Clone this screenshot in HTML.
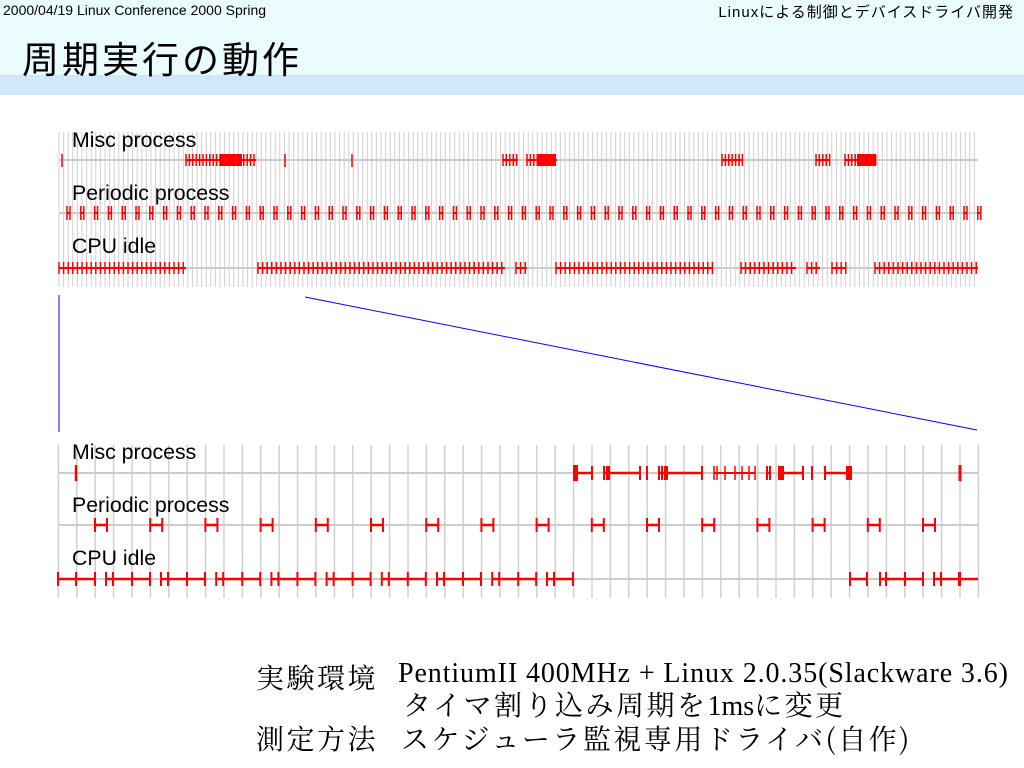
<!DOCTYPE html>
<html><head><meta charset="utf-8">
<style>
body{margin:0;width:1024px;height:768px;overflow:hidden;background:#fff;font-family:"Liberation Sans","Noto Sans CJK JP",sans-serif;position:relative}
.hd{position:absolute;left:0;top:0;width:1024px;height:75px;background:#eafcfd}
.hd2{position:absolute;left:0;top:75px;width:1024px;height:20px;background:#d0e8fa}
.t{position:absolute;white-space:nowrap}
.j{position:absolute;white-space:nowrap;font-family:"Noto Serif CJK SC","Liberation Serif",serif;font-size:28px;letter-spacing:2.5px;color:#000}
.l{position:absolute;white-space:nowrap;font-family:"Liberation Serif",serif;font-size:28px;letter-spacing:0.9px;color:#000}
</style></head><body>
<div class="hd"></div><div class="hd2"></div>
<div class="t" style="left:3px;top:2px;font-size:14px">2000/04/19 Linux Conference 2000 Spring</div>
<div class="t" style="right:10px;top:1px;font-size:15px;letter-spacing:1px">Linuxによる制御とデバイスドライバ開発</div>
<div class="t" style="left:22px;top:30px;font-size:37px;letter-spacing:3px">周期実行の動作</div>
<svg id="g" width="1024" height="768" style="position:absolute;left:0;top:0"></svg>
<div class="j" style="left:256px;top:657px">実験環境</div>
<div class="l" style="left:398px;top:658px">PentiumII 400MHz + Linux 2.0.35(Slackware 3.6)</div>
<div class="j" style="left:403px;top:684px">タイマ割り込み周期を<span style="font-family:'Liberation Serif',serif;font-size:28px;letter-spacing:0">1ms</span>に変更</div>
<div class="j" style="left:256px;top:718px">測定方法</div>
<div class="j" style="left:401px;top:718px">スケジューラ監視専用ドライバ(自作)</div>
<script>
var s='';
function L(x1,y1,x2,y2,c,w){s+='<line x1="'+x1+'" y1="'+y1+'" x2="'+x2+'" y2="'+y2+'" stroke="'+c+'" stroke-width="'+w+'"/>';}
function T(x,y,t){s+='<text x="'+x+'" y="'+y+'" font-family="Liberation Sans, sans-serif" font-size="21.3" fill="#000">'+t+'</text>';}
var R='#f00';
for(var x=59;x<=979;x+=4.6)L(x,132,x,287,'#d0d0d0',1);
[160,213,268].forEach(function(y){L(59,y,978,y,'#ccc',2)});
T(72,147,'Misc process');T(72,200,'Periodic process');T(72,253,'CPU idle');
function seg(a,b,y,h,step){L(a,y,b,y,R,2);for(var x=a;x<=b+0.1;x+=step)L(x,y-h,x,y+h,R,1.5);}
for(var x=67;x<978;x+=13.8){L(x,213,x+3,213,R,2);L(x,206,x,220,R,1.5);L(x+3,206,x+3,220,R,1.5);}
[[59,186],[258,505],[516,527],[556,713],[741,796],[807,820],[832,846],[875,978]].forEach(function(p){seg(p[0],p[1],268,6,4.6)});
L(62,154,62,167,R,1.5);L(285,154,285,167,R,1.5);L(352,154,352,167,R,1.5);
[[186,256],[503,518],[527,557],[722,743],[816,830],[845,876]].forEach(function(p){seg(p[0],p[1],160,6,3.4)});
s+='<rect x="220" y="154" width="22" height="12" fill="#f00"/><rect x="538" y="154" width="18" height="12" fill="#f00"/><rect x="857" y="154" width="18" height="12" fill="#f00"/>';
L(59,295,59,432,'#00f',1);L(305,297,977,430,'#00f',1);
for(var x=58.4;x<=980;x+=18.4)L(x,445,x,598,'#d0d0d0',1.5);
[473,525,579].forEach(function(y){L(59,y,978,y,'#ccc',2)});
T(72,459,'Misc process');T(72,512,'Periodic process');T(72,565,'CPU idle');
function bs(a,b,y,ticks){L(a,y,b,y,R,2.5);ticks.forEach(function(x){L(x,y-7,x,y+7,R,2)});}
for(var k=0;k<16;k++){var a=95+55.2*k;bs(a,a+12,525,[a,a+12]);}
var id=[[58,95,[58,76,95]],[106,150,[106,113,132,150]]];
for(var k=0;k<7;k++){var a=161+55.2*k;id.push([a,a+44,[a,a+7,a+26,a+44]]);}
id.push([547,573,[547,554,573]]);
id.push([850,867,[850,867]]);id.push([880,923,[880,886,905,923]]);id.push([934,978,[934,941,960]]);
id.forEach(function(p){bs(p[0],p[1],579,p[2])});
s+='<rect x="958" y="572" width="3" height="14" fill="#f00"/>';
L(76,465,76,481,R,2.5);L(960,465,960,481,R,3);
bs(575,592,473,[592]);s+='<rect x="573" y="465" width="5" height="16" fill="#f00"/>';
bs(604,640,473,[604,607,609,640,647]);
bs(659,702,473,[659,662,665,667,702]);
[714,717,725,735,742,749,755].forEach(function(x){L(x,466,x,480,R,1.5)});L(714,473,755,473,R,2);
bs(767,770,473,[767,770]);
bs(779,804,473,[779,781,783,803,812]);
bs(825,851,473,[825,847,849,851]);
document.getElementById('g').innerHTML=s;
</script>
</body></html>
